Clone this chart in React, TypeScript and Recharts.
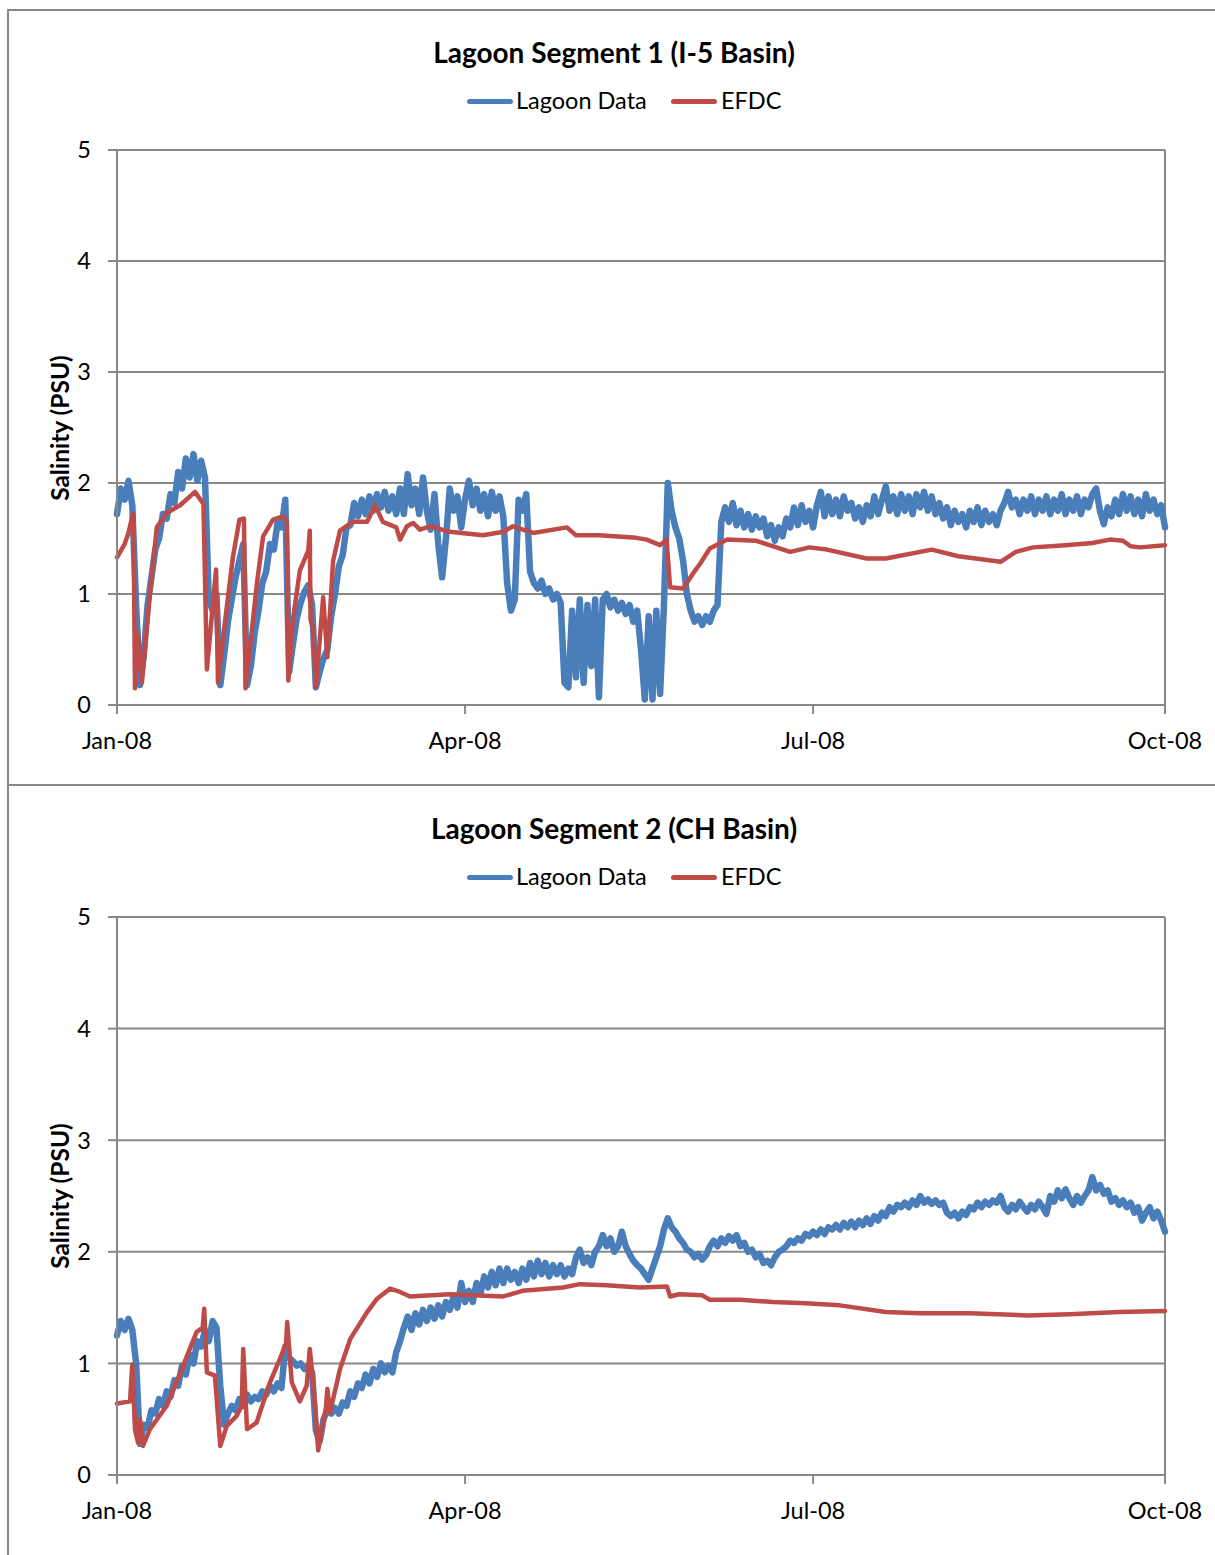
import { LineChart, Line, XAxis, YAxis, CartesianGrid, ReferenceLine } from "recharts";

// x axis: days since 1 Jan 2008
const xTickDays = [0, 91, 182, 274];
const xTickLabels = ["Jan-08", "Apr-08", "Jul-08", "Oct-08"];
const yTicks = [0, 1, 2, 3, 4, 5];

// Segment 1 lagoon salinity, one reading per day from Jan 1
const seg1Lagoon = [
  1.72, 1.95, 1.85, 2.02, 1.8, 0.9, 0.18, 0.45, 0.9, 1.15,
  1.4, 1.5, 1.72, 1.68, 1.9, 1.82, 2.1, 1.95, 2.22, 2.05,
  2.26, 2.02, 2.2, 2.05, 0.95, 0.85, 1.0, 0.18, 0.45, 0.75,
  0.95, 1.15, 1.3, 1.45, 0.18, 0.35, 0.65, 0.85, 1.1, 1.2,
  1.45, 1.4, 1.65, 1.6, 1.85, 0.3, 0.55, 0.78, 0.92, 1.02,
  1.08, 0.9, 0.16, 0.3, 0.42, 0.5, 0.8, 1.0, 1.25, 1.35,
  1.6, 1.62, 1.82, 1.7, 1.85, 1.72, 1.88, 1.75, 1.9, 1.78,
  1.92, 1.75, 1.88, 1.72, 1.95, 1.72, 2.08, 1.8, 1.95, 1.72,
  2.05, 1.75, 1.58, 1.9, 1.45, 1.15, 1.5, 1.95, 1.75, 1.88,
  1.6, 1.85, 2.02, 1.8, 1.95, 1.75, 1.9, 1.7, 1.92, 1.75,
  1.88, 1.7, 1.1, 0.85, 0.95, 1.85, 1.75, 1.9, 1.2, 1.1,
  1.05, 1.12, 1.0, 1.05, 0.95, 1.0, 0.92, 0.2, 0.16, 0.85,
  0.25, 0.95, 0.2, 0.9, 0.35, 0.95, 0.07, 0.95, 1.0, 0.88,
  0.95, 0.85, 0.92, 0.82, 0.9, 0.75, 0.85, 0.5, 0.05, 0.8,
  0.05, 0.85, 0.1, 0.9, 2.0, 1.75, 1.6, 1.5, 1.3, 1.0,
  0.85, 0.75, 0.8, 0.72, 0.8, 0.75, 0.85, 0.9, 1.65, 1.78,
  1.65, 1.82, 1.62, 1.75, 1.6, 1.72, 1.58, 1.7, 1.6, 1.68,
  1.52, 1.62, 1.48, 1.6, 1.52, 1.68, 1.6, 1.78, 1.62, 1.8,
  1.65, 1.75, 1.6, 1.8, 1.92, 1.7, 1.88, 1.72, 1.85, 1.7,
  1.88, 1.75, 1.82, 1.68, 1.78, 1.65, 1.8, 1.7, 1.88, 1.72,
  1.85, 1.97, 1.75, 1.88, 1.72, 1.9, 1.75, 1.88, 1.72, 1.9,
  1.78, 1.92, 1.75, 1.88, 1.72, 1.82, 1.68, 1.78, 1.62, 1.75,
  1.65, 1.72, 1.6, 1.75, 1.65, 1.78, 1.62, 1.75, 1.65, 1.72,
  1.62, 1.75, 1.82, 1.92, 1.78, 1.85, 1.72, 1.85, 1.75, 1.88,
  1.72, 1.85, 1.75, 1.88, 1.72, 1.85, 1.75, 1.9, 1.72, 1.85,
  1.75, 1.88, 1.72, 1.85, 1.78, 1.9, 1.95, 1.75, 1.63, 1.78,
  1.7, 1.85, 1.72, 1.9, 1.75, 1.88, 1.72, 1.85, 1.7, 1.9,
  1.75, 1.85, 1.72, 1.8, 1.6,
];

// Segment 1 EFDC model, [day, salinity]
const seg1Efdc: [number, number][] = [
  [0, 1.33], [2, 1.45], [3, 1.55], [4, 1.7], [4.3, 1.72], [4.7, 0.15], [5.5, 0.65], [6.5, 0.2],
  [8.6, 1.0], [10.4, 1.6], [13, 1.73], [16.5, 1.8], [20.4, 1.92], [22.6, 1.81], [23.5, 0.32],
  [25.9, 1.22], [26.4, 0.2], [27.7, 0.6], [30.3, 1.33], [32, 1.67], [33.2, 1.68], [33.6, 0.15],
  [36.6, 1.1], [38.2, 1.52], [40.8, 1.67], [43.4, 1.7], [44.4, 1.65], [44.8, 0.22], [46, 0.77],
  [47.8, 1.21], [50, 1.39], [50.4, 1.57], [50.6, 0.77], [51.3, 0.68], [52, 0.16], [53.9, 0.97],
  [55, 0.43], [56.5, 1.3], [58.3, 1.57], [61.7, 1.65], [65.4, 1.65], [67.5, 1.8], [69.5, 1.65],
  [73, 1.6], [74, 1.49], [75.8, 1.61], [77.4, 1.64], [79.2, 1.58], [81.8, 1.61], [87, 1.56],
  [95.7, 1.53], [101, 1.56], [103.5, 1.61], [108.8, 1.55], [117.6, 1.6], [120, 1.53], [126, 1.53],
  [135, 1.51], [138.5, 1.49], [142, 1.44], [143.7, 1.49], [144.6, 1.06], [148, 1.05], [150.7, 1.19],
  [152.4, 1.27], [155, 1.41], [159.5, 1.49], [167, 1.48], [176, 1.38], [181, 1.42], [185.6, 1.4],
  [196, 1.32], [201, 1.32], [213, 1.4], [220, 1.34], [231, 1.29], [235, 1.38], [239.5, 1.42],
  [248, 1.44], [255, 1.46], [259.6, 1.49], [263, 1.48], [265, 1.43], [267.5, 1.42], [274, 1.44],
];

// Segment 2 lagoon salinity, one reading per day from Jan 1
const seg2Lagoon = [
  1.25, 1.38, 1.3, 1.4, 1.3, 1.0, 0.28, 0.45, 0.42, 0.58,
  0.55, 0.68, 0.62, 0.75, 0.7, 0.85, 0.8, 0.98, 0.9, 1.08,
  1.0, 1.2, 1.15, 1.3, 1.2, 1.38, 1.32, 0.8, 0.45, 0.55,
  0.62, 0.58, 0.68, 0.62, 0.72, 0.66, 0.7, 0.68, 0.75, 0.72,
  0.8, 0.75, 0.82, 0.78, 1.15, 1.05, 1.02, 0.98, 1.0, 0.95,
  0.98, 0.92, 0.4, 0.3, 0.5, 0.58, 0.55, 0.6, 0.55, 0.65,
  0.62, 0.75, 0.7, 0.82, 0.78, 0.9, 0.82, 0.95, 0.88, 1.0,
  0.92, 0.98, 0.92, 1.1, 1.2, 1.32, 1.42, 1.3, 1.45, 1.35,
  1.48, 1.38, 1.5, 1.4, 1.52, 1.42, 1.55, 1.48, 1.6, 1.5,
  1.72, 1.55, 1.65, 1.55, 1.72, 1.62, 1.78, 1.68, 1.82, 1.7,
  1.85, 1.72, 1.85, 1.75, 1.82, 1.72, 1.85, 1.75, 1.9, 1.78,
  1.92, 1.8, 1.9, 1.78, 1.88, 1.8, 1.88, 1.78, 1.85, 1.8,
  1.95, 2.02, 1.9, 1.95, 1.88, 2.0, 2.05, 2.15, 2.05, 2.12,
  2.0, 2.05, 2.18, 2.05, 1.98, 1.92, 1.88, 1.85, 1.8, 1.75,
  1.85, 1.95, 2.05, 2.2, 2.3, 2.22, 2.18, 2.12, 2.08, 2.02,
  2.0, 1.95, 1.98, 1.93, 1.97, 2.05, 2.1, 2.05, 2.12, 2.08,
  2.14, 2.1, 2.15, 2.05, 2.08, 2.0, 2.02, 1.95, 1.98, 1.9,
  1.92, 1.88, 1.95, 2.0, 2.02, 2.05, 2.1, 2.08, 2.12, 2.1,
  2.16, 2.14, 2.18, 2.15, 2.2, 2.16, 2.22, 2.2, 2.24, 2.2,
  2.26, 2.22, 2.27, 2.22, 2.28, 2.24, 2.3, 2.25, 2.32, 2.28,
  2.35, 2.32, 2.4, 2.36, 2.42, 2.4, 2.44, 2.4, 2.46, 2.42,
  2.5, 2.44, 2.47, 2.43, 2.46, 2.42, 2.44, 2.35, 2.32, 2.35,
  2.3, 2.36, 2.33, 2.4, 2.38, 2.44, 2.4, 2.45, 2.42, 2.46,
  2.44, 2.5, 2.4, 2.36, 2.42, 2.38, 2.45, 2.4, 2.36, 2.42,
  2.38, 2.45, 2.4, 2.34, 2.5, 2.45, 2.55, 2.48, 2.56, 2.48,
  2.42, 2.5, 2.44, 2.5, 2.55, 2.67, 2.55, 2.6, 2.52, 2.55,
  2.45, 2.48, 2.42, 2.46, 2.4, 2.44, 2.35, 2.4, 2.28, 2.35,
  2.4, 2.3, 2.36, 2.28, 2.18,
];

// Segment 2 EFDC model, [day, salinity]
const seg2Efdc: [number, number][] = [
  [0, 0.64], [3.4, 0.66], [4, 0.99], [4.7, 0.41], [5.5, 0.29], [6, 0.5], [6.8, 0.26], [8.6, 0.41],
  [13, 0.62], [17.3, 0.98], [20.8, 1.28], [22.4, 1.32], [22.8, 1.49], [23.5, 0.92], [25.6, 0.89],
  [27, 0.26], [28.7, 0.44], [31.3, 0.53], [32.6, 0.62], [33, 1.13], [34, 0.41], [36.5, 0.47],
  [40, 0.83], [42.6, 1.04], [44.2, 1.18], [44.5, 1.37], [45.7, 0.83], [47.8, 0.66], [49.6, 0.8],
  [50.4, 1.13], [51.3, 0.83], [52.6, 0.22], [54.6, 0.6], [55, 0.77], [55.7, 0.56], [58.3, 0.95],
  [61, 1.22], [65.4, 1.46], [68, 1.58], [71.4, 1.67], [74, 1.64], [76.6, 1.6], [87, 1.62],
  [101, 1.6], [106, 1.65], [116.6, 1.68], [121, 1.71], [128, 1.7], [136.7, 1.68], [143.8, 1.69],
  [144.6, 1.6], [147, 1.62], [153, 1.61], [155, 1.57], [163, 1.57], [171.5, 1.55], [180, 1.54],
  [189, 1.52], [201, 1.46], [210, 1.45], [223, 1.45], [238, 1.43], [249, 1.44], [262, 1.46],
  [274, 1.47],
];

const BLUE = "#4a7ebb";
const RED = "#be4b48";
const GRID = "#888888";
const FONT = "Lato, 'Open Sans', sans-serif";

interface PanelProps {
  top: number;
  height: number;
  boxHeight: number;
  plotTop: number;
  titleY: number;
  legendY: number;
  title: string;
  lagoon: number[];
  efdc: [number, number][];
}

function Panel({ top, height, boxHeight, plotTop, titleY, legendY, title, lagoon, efdc }: PanelProps) {
  const lagoonData = lagoon.map((v, i) => ({ day: i, value: v }));
  const efdcData = efdc.map(([d, v]) => ({ day: d, value: v }));
  const plotBottom = top + height - 80;
  const labelStyle = {
    position: "absolute" as const,
    transform: "translate(-50%, -50%)",
    whiteSpace: "nowrap" as const,
    fontFamily: FONT,
    color: "#000",
    lineHeight: 1,
  };

  return (
    <>
      <div
        style={{
          position: "absolute",
          left: 7,
          top,
          width: 1240,
          height: boxHeight,
          border: "2px solid #888",
          boxSizing: "border-box",
        }}
      />
      <div style={{ ...labelStyle, left: 614, top: titleY, fontSize: 28, fontWeight: 700 }}>{title}</div>

      {/* legend */}
      <div style={{ position: "absolute", left: 467, top: legendY - 2.5, width: 46, height: 5, background: BLUE, borderRadius: 3 }} />
      <div style={{ ...labelStyle, transform: "translate(0, -50%)", left: 516, top: legendY, fontSize: 23.5 }}>Lagoon Data</div>
      <div style={{ position: "absolute", left: 671, top: legendY - 2.5, width: 46, height: 5, background: RED, borderRadius: 3 }} />
      <div style={{ ...labelStyle, transform: "translate(0, -50%)", left: 721, top: legendY, fontSize: 23.5 }}>EFDC</div>

      <div
        style={{
          ...labelStyle,
          left: 60,
          top: (plotTop + plotBottom) / 2,
          fontSize: 24.5,
          fontWeight: 700,
          transform: "translate(-50%, -50%) rotate(-90deg)",
        }}
      >
        Salinity (PSU)
      </div>

      <div style={{ position: "absolute", left: 0, top }}>
        <LineChart
          width={1215}
          height={height}
          margin={{ top: plotTop - top, right: 50, bottom: 20, left: 0 }}
        >
          <CartesianGrid horizontal vertical={false} stroke={GRID} strokeWidth={2} />
          <XAxis
            dataKey="day"
            type="number"
            domain={[0, 274]}
            ticks={xTickDays}
            tickFormatter={(d: number) => xTickLabels[xTickDays.indexOf(d)]}
            height={60}
            tickSize={9}
            tickMargin={18}
            axisLine={{ stroke: GRID, strokeWidth: 2 }}
            tickLine={{ stroke: GRID, strokeWidth: 2 }}
            tick={{ fill: "#000", fontSize: 23.5, fontFamily: FONT }}
            allowDuplicatedCategory={false}
          />
          <YAxis
            type="number"
            domain={[0, 5]}
            ticks={yTicks}
            width={117}
            tickSize={9}
            tickMargin={17}
            axisLine={{ stroke: GRID, strokeWidth: 2 }}
            tickLine={{ stroke: GRID, strokeWidth: 2 }}
            tick={{ fill: "#000", fontSize: 23.5, fontFamily: FONT }}
          />
          <ReferenceLine x={274} stroke={GRID} strokeWidth={2} />
          <Line
            data={lagoonData}
            dataKey="value"
            name="Lagoon Data"
            type="linear"
            stroke={BLUE}
            strokeWidth={6.5}
            strokeLinejoin="round"
            strokeLinecap="round"
            dot={false}
            isAnimationActive={false}
          />
          <Line
            data={efdcData}
            dataKey="value"
            name="EFDC"
            type="linear"
            stroke={RED}
            strokeWidth={4.5}
            strokeLinejoin="round"
            strokeLinecap="round"
            dot={false}
            isAnimationActive={false}
          />
        </LineChart>
      </div>
    </>
  );
}

export default function App() {
  return (
    <div style={{ position: "absolute", left: 0, top: 0, width: 1215, height: 1555, overflow: "hidden", background: "#fff" }}>
      <Panel
        top={9}
        height={776}
        boxHeight={777}
        plotTop={150}
        titleY={52}
        legendY={101}
        title="Lagoon Segment 1 (I-5 Basin)"
        lagoon={seg1Lagoon}
        efdc={seg1Efdc}
      />
      <Panel
        top={784}
        height={771}
        boxHeight={800}
        plotTop={917}
        titleY={828}
        legendY={877}
        title="Lagoon Segment 2 (CH Basin)"
        lagoon={seg2Lagoon}
        efdc={seg2Efdc}
      />
    </div>
  );
}
